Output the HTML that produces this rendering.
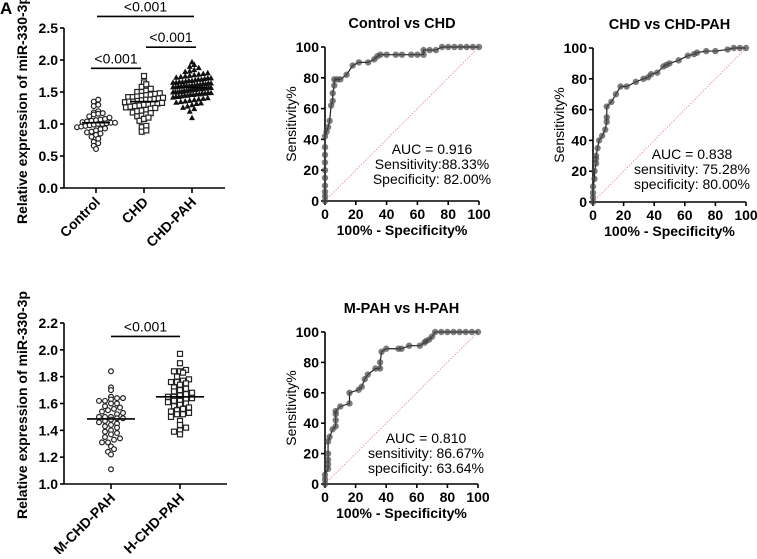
<!DOCTYPE html>
<html><head><meta charset="utf-8"><style>
body{margin:0;background:#fff;width:757px;height:554px;overflow:hidden}
svg{font-family:"Liberation Sans",Arial,sans-serif}
.tk{font-size:14px;font-weight:bold;fill:#000}
</style></head><body>
<svg id="fig" width="757" height="554" xmlns="http://www.w3.org/2000/svg">
<text x="0" y="14" font-size="17" font-weight="bold">A</text>
</svg>
<script>
// ---- Panel A data ----
const aGroups = ["Control","CHD","CHD-PAH"];
const aControl = [1.38,1.35,1.3,1.28,1.2,1.18,1.17,1.16,1.15,1.12,1.1,1.08,1.07,1.06,1.05,1.04,1.03,1.02,1.02,1.01,1.0,1.0,0.99,0.98,0.97,0.96,0.95,0.93,0.92,0.9,0.88,0.87,0.85,0.83,0.8,0.77,0.72,0.7,0.66,0.61];
const aCHD = [1.75,1.65,1.62,1.58,1.55,1.52,1.5,1.5,1.48,1.47,1.46,1.45,1.44,1.43,1.42,1.42,1.41,1.4,1.39,1.38,1.38,1.37,1.36,1.35,1.35,1.34,1.33,1.32,1.31,1.3,1.3,1.29,1.28,1.27,1.26,1.25,1.24,1.22,1.21,1.2,1.18,1.17,1.15,1.13,1.12,1.1,1.08,1.05,0.97,0.95,0.9,0.88];
const aPAH = [1.97,1.93,1.9,1.88,1.85,1.83,1.82,1.8,1.79,1.78,1.77,1.76,1.75,1.74,1.73,1.72,1.72,1.71,1.7,1.7,1.69,1.68,1.68,1.67,1.66,1.66,1.65,1.65,1.64,1.64,1.63,1.63,1.62,1.62,1.61,1.61,1.6,1.6,1.6,1.59,1.59,1.58,1.58,1.57,1.57,1.56,1.56,1.55,1.55,1.55,1.54,1.54,1.53,1.53,1.52,1.52,1.51,1.51,1.5,1.5,1.5,1.49,1.49,1.48,1.48,1.47,1.47,1.46,1.46,1.45,1.45,1.44,1.43,1.43,1.42,1.41,1.4,1.39,1.38,1.37,1.36,1.35,1.34,1.33,1.32,1.3,1.28,1.26,1.24,1.2,1.1];
const aMedians = [1.02,1.35,1.57];
const aTicks = [0,0.5,1.0,1.5,2.0,2.5];
// ---- Panel D data ----
const dGroups = ["M-CHD-PAH","H-CHD-PAH"];
const dM = [1.84,1.72,1.7,1.65,1.64,1.64,1.63,1.62,1.62,1.6,1.6,1.58,1.57,1.56,1.55,1.54,1.53,1.52,1.5,1.5,1.5,1.49,1.49,1.48,1.47,1.46,1.45,1.44,1.43,1.42,1.4,1.39,1.38,1.37,1.35,1.34,1.33,1.31,1.31,1.28,1.26,1.24,1.22,1.11];
const dH = [1.97,1.9,1.85,1.84,1.84,1.83,1.8,1.78,1.77,1.76,1.76,1.75,1.74,1.72,1.71,1.7,1.69,1.68,1.67,1.66,1.65,1.65,1.64,1.63,1.62,1.62,1.61,1.6,1.59,1.58,1.57,1.56,1.55,1.54,1.53,1.52,1.52,1.5,1.47,1.44,1.42,1.4,1.39,1.37];
const dMedians = [1.485,1.65];
const dTicks = [1.0,1.2,1.4,1.6,1.8,2.0,2.2];
// ---- ROC data ----
const roc1X = [0,0,0,0,0,0,0,0,0,0,1,2,3,4,5,5,6,6,8,10,14,18,22,28,32,34,36,40,46,50,56,60,64,64,68,72,76,80,84,88,92,96,100];
const roc1Y = [0,3,6,10,15,20,25,30,35,42,45,48,52,62,65,70,75,79,79,79,82,88,90,90,92,94,95,95,95,95,95,95,95,98,98,98,100,100,100,100,100,100,100];
const roc2X = [0,0,0,0,1,1,2,2,2,3,4,6,8,9,9,9,12,15,18,22,28,33,36,38,42,46,48,50,56,62,66,68,74,80,88,92,96,100];
const roc2Y = [0,3,6,10,15,20,25,28,30,35,40,43,47,52,55,62,65,70,75,75,78,80,81,83,84,88,89,90,92,95,96,97,98,98,99,100,100,100];
const roc3X = [0,0,0,2,2,2,2,2,3,5,7,7,7,7,10,16,16,22,24,26,28,33,36,36,37,40,48,50,55,62,65,66,68,70,72,76,80,84,88,92,96,100];
const roc3Y = [0,3,6,10,13,16,20,28,31,36,38,42,46,48,51,53,60,62,64,69,72,76,76,80,87,89,89,89,91,91,93,94,95,97,100,100,100,100,100,100,100,100];
const rocTicks = [0,20,40,60,80,100];

const NS="http://www.w3.org/2000/svg", svg=document.getElementById('fig');
function mk(tag,attrs,parent){const e=document.createElementNS(NS,tag);for(const k in attrs)e.setAttribute(k,attrs[k]);(parent||svg).appendChild(e);return e;}
function txt(x,y,s,attrs,parent){const e=mk('text',Object.assign({x:x,y:y},attrs||{}),parent);e.textContent=s;return e;}

function dotPanel(cfg){
  const g=mk('g',{});
  
  
  const ys=v=>cfg.y0-(v-cfg.vmin)/(cfg.vmax-cfg.vmin)*(cfg.y0-cfg.y1);
  mk('line',{x1:cfg.ax,y1:cfg.y1,x2:cfg.ax,y2:cfg.y0,stroke:'#000','stroke-width':1.6},g);
  mk('line',{x1:cfg.ax,y1:cfg.y0,x2:cfg.xend,y2:cfg.y0,stroke:'#000','stroke-width':1.6},g);
  cfg.ticks.forEach(t=>{
    mk('line',{x1:cfg.ax-4,x2:cfg.ax,y1:ys(t),y2:ys(t),stroke:'#000','stroke-width':1.6},g);
    const l=txt(cfg.ax-6,ys(t)+5,t.toFixed(1),{class:'tk','text-anchor':'end'},g);
    
    
  });
  const yl=txt(0,0,'Relative expression of miR-330-3p',{class:'tk','font-size':14.5,'text-anchor':'middle',transform:`translate(${cfg.ax-37},${cfg.ylc}) rotate(-90)`},g);
  
  
  cfg.groups.forEach((name,gi)=>{
    const cx=cfg.gx[gi];
    mk('line',{x1:cx,x2:cx,y1:cfg.y0,y2:cfg.y0+5,stroke:'#000','stroke-width':1.6},g);
    const l=txt(0,0,name,{class:'tk','text-anchor':'end',transform:`translate(${cx+5},${cfg.y0+15}) rotate(-45)`},g);
    
    
    const vals=cfg.data[gi];
    const sorted=vals.slice().sort((a,b)=>a-b);
    const bins={};
    sorted.forEach(v=>{
      const b=Math.round(ys(v)/cfg.binpx);bins[b]=bins[b]||[];bins[b].push(v);
    });
    Object.keys(bins).forEach(b=>{
      const arr=bins[b];
      const dx=Math.min(cfg.dx,(arr.length>1)?cfg.maxw/(arr.length-1):cfg.dx);
      arr.forEach((v,i)=>{
        const k=i-(arr.length-1)/2;
        const x=cx+k*dx, y=ys(v);
        let m;
        if(cfg.shapes[gi]==='c') m=mk('circle',{cx:x,cy:y,r:2.4,fill:'#fff',stroke:'#222','stroke-width':1.2},g);
        else if(cfg.shapes[gi]==='s') m=mk('rect',{x:x-2.5,y:y-2.5,width:5,height:5,fill:'#fff',stroke:'#222','stroke-width':1.2},g);
        else m=mk('path',{d:`M${x},${y-3}L${x+3},${y+2.5}L${x-3},${y+2.5}Z`,fill:'#111'},g);
        
        
      });
    });
    const md=mk('line',{x1:cx-cfg.mw,x2:cx+cfg.mw,y1:ys(cfg.medians[gi]),y2:ys(cfg.medians[gi]),stroke:'#000','stroke-width':1.6},g);
    
    
  });
  cfg.sig.forEach(s=>{
    const y=ys(s.v);
    const b=mk('line',{x1:s.x1,x2:s.x2,y1:y,y2:y,stroke:'#000','stroke-width':1.6},g);
    
    
    const t=txt((s.x1+s.x2)/2,y-5,'<0.001',{'font-size':14,'text-anchor':'middle'},g);
    
    
  });
}

dotPanel({name:'panel-a-dotplot',ax:64,y0:188,y1:28,vmin:0,vmax:2.5,xend:225,ticks:aTicks,groups:aGroups,gx:[96,144,192],
  data:[aControl,aCHD,aPAH],medians:aMedians,shapes:['c','s','t'],binpx:5,dx:4.5,maxw:38,mw:14,ylc:110,
  sig:[{x1:91,x2:141,v:1.87},{x1:146,x2:196,v:2.2},{x1:97,x2:194,v:2.68}]});
dotPanel({name:'panel-d-dotplot',ax:64,y0:484,y1:323,vmin:1.0,vmax:2.2,xend:227,ticks:dTicks,groups:dGroups,gx:[111,180],
  data:[dM,dH],medians:dMedians,shapes:['c','s'],binpx:5,dx:6,maxw:44,mw:24,ylc:405,
  sig:[{x1:111,x2:180,v:2.1}]});

function roc(cfg){
  const g=mk('g',{});
  
  
  const xs=v=>cfg.x0+v/100*(cfg.x1-cfg.x0), ys=v=>cfg.y0-v/100*(cfg.y0-cfg.y1);
  mk('line',{x1:xs(0),y1:ys(0),x2:xs(100),y2:ys(100),stroke:'#f08080','stroke-width':0.8,'stroke-dasharray':'1.5,1.5'},g);
  mk('line',{x1:cfg.x0,y1:cfg.y1,x2:cfg.x0,y2:cfg.y0,stroke:'#000','stroke-width':1.6},g);
  mk('line',{x1:cfg.x0,y1:cfg.y0,x2:cfg.x1,y2:cfg.y0,stroke:'#000','stroke-width':1.6},g);
  rocTicks.forEach(t=>{
    mk('line',{x1:cfg.x0-4,x2:cfg.x0,y1:ys(t),y2:ys(t),stroke:'#000','stroke-width':1.6},g);
    const a=txt(cfg.x0-6,ys(t)+5,String(t),{class:'tk','text-anchor':'end'},g);
    
    
    mk('line',{x1:xs(t),x2:xs(t),y1:cfg.y0,y2:cfg.y0+4,stroke:'#000','stroke-width':1.6},g);
    const b=txt(xs(t),cfg.y0+18,String(t),{class:'tk','text-anchor':'middle'},g);
    
    
  });
  const pts=cfg.X.map((x,i)=>xs(x)+','+ys(cfg.Y[i])).join(' ');
  const pl=mk('polyline',{points:pts,fill:'none',stroke:'#222','stroke-width':1.2},g);
  
  
  cfg.X.forEach((x,i)=>{
    const c=mk('circle',{cx:xs(x),cy:ys(cfg.Y[i]),r:3.2,fill:'rgba(70,70,70,0.7)'},g);
    
    
  });
  const t=txt((cfg.x0+cfg.x1)/2,cfg.y1-19,cfg.title,{'font-size':14.5,'font-weight':'bold','text-anchor':'middle'},g);
  
  
  const xt=txt((cfg.x0+cfg.x1)/2,cfg.y0+34,'100% - Specificity%',{class:'tk','font-size':13,'text-anchor':'middle'},g);
  
  
  const yt=txt(0,0,'Sensitivity%',{'font-size':14,'text-anchor':'middle',transform:`translate(${cfg.x0-29},${(cfg.y0+cfg.y1)/2}) rotate(-90)`},g);
  
  
  cfg.stats.forEach((s,i)=>{
    const st=txt(cfg.sx,cfg.sy+i*15,s,{'font-size':14,'text-anchor':'middle'},g);
    
    
  });
}
roc({name:'roc-control-vs-chd',x0:325,x1:479,y0:201,y1:47,X:roc1X,Y:roc1Y,title:'Control vs CHD',sx:432,sy:154,
  stats:['AUC = 0.916','Sensitivity:88.33%','Specificity: 82.00%']});
roc({name:'roc-chd-vs-chdpah',x0:593,x1:746,y0:202,y1:48,X:roc2X,Y:roc2Y,title:'CHD vs CHD-PAH',sx:692,sy:159,
  stats:['AUC = 0.838','sensitivity: 75.28%','specificity: 80.00%']});
roc({name:'roc-mpah-vs-hpah',x0:325,x1:478,y0:484,y1:332,X:roc3X,Y:roc3Y,title:'M-PAH vs H-PAH',sx:426,sy:443,
  stats:['AUC = 0.810','sensitivity: 86.67%','specificity: 63.64%']});
</script>
</body></html>
